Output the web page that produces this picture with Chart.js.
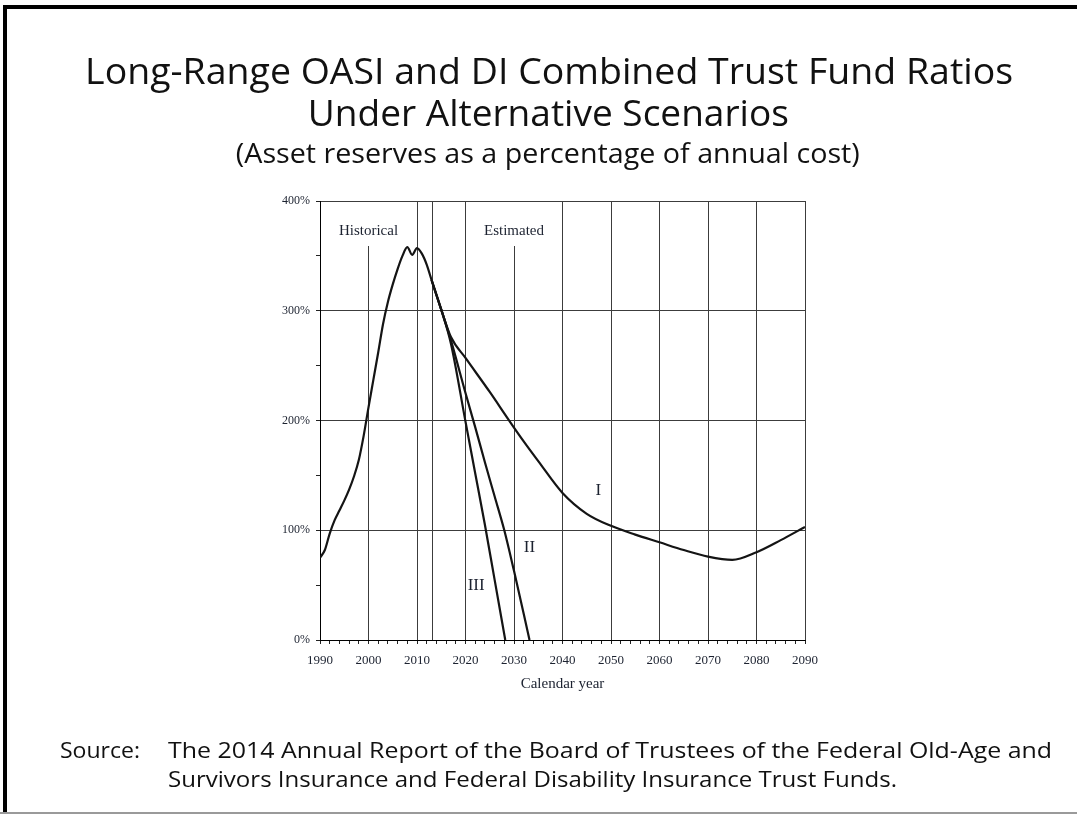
<!DOCTYPE html>
<html>
<head>
<meta charset="utf-8">
<script src="https://cdn.jsdelivr.net/npm/chart.js@4.4.1/dist/chart.umd.min.js"></script>
<style>
  html, body { margin: 0; padding: 0; background: #fff; }
  #page { position: relative; width: 1077px; height: 814px; overflow: hidden; background: #fff; }
  #frame { position: absolute; left: 3px; top: 5px; width: 1200px; height: 900px; border-left: 4px solid #000; border-top: 4px solid #000; }
  #bottomline { position: absolute; left: 0; top: 812px; width: 1077px; height: 2px; background: #9a9a9a; }
  canvas { position: absolute; left: 0; top: 0; }
  .line { position: absolute; white-space: nowrap; font-family: "Open Sans", sans-serif; color: #111; line-height: 1; }
  .center { left: 0; width: 1077px; text-align: center; }
  .line span { display: inline-block; transform-origin: 50% 50%; }
  .left span { transform-origin: 0 50%; }
</style>
</head>
<body>
<div id="page">
  <div id="frame"></div>
  <div id="bottomline"></div>
  <canvas id="chart" width="1077" height="814"></canvas>
  <div class="line center" style="top:51px; left:11px; font-size:37px"><span data-w="928">Long-Range OASI and DI Combined Trust Fund Ratios</span></div>
  <div class="line center" style="top:93px; left:10px; font-size:37px"><span data-w="481">Under Alternative Scenarios</span></div>
  <div class="line center" style="top:139px; left:9px; font-size:27px"><span data-w="624">(Asset reserves as a percentage of annual cost)</span></div>
  <div class="line left" style="top:738px; left:60px; font-size:22px"><span data-w="80">Source:</span></div>
  <div class="line left" style="top:738px; left:168px; font-size:22px"><span data-w="884">The 2014 Annual Report of the Board of Trustees of the Federal Old-Age and</span></div>
  <div class="line left" style="top:767px; left:168px; font-size:22px"><span data-w="729">Survivors Insurance and Federal Disability Insurance Trust Funds.</span></div>
</div>
<script>
// stretch each text line to the width it has in the reference
document.querySelectorAll('.line span').forEach(function (s) {
  var w = s.getBoundingClientRect().width;
  s.style.transform = 'scaleX(' + (Number(s.dataset.w) / w) + ')';
});

// historical trust fund ratio (%)
const histYears = [1990, 1991, 1992, 1993, 1994, 1995, 1996, 1997, 1998, 1999, 2000, 2001,
  2002, 2003, 2004, 2005, 2006, 2007, 2008, 2009, 2010, 2011, 2012, 2013];
const histRatio = [75, 82, 97, 109, 118, 127, 137, 149, 164, 186, 212, 237,
  262, 288, 308, 324, 338, 350, 358, 351, 357, 352, 342, 328];

// alternative I (low cost)
const lowYears = [2013, 2015, 2017, 2020, 2025, 2029, 2032, 2035, 2040, 2045, 2050,
  2055, 2060, 2065, 2070, 2075, 2080, 2085, 2090];
const lowRatio = [328, 301, 276, 257, 226, 200, 181, 163, 134, 115, 104,
  96, 89, 82, 76, 73, 80, 91, 103];

// alternative II (intermediate)
const intYears = [2013, 2015, 2017, 2020, 2022, 2024, 2026, 2028, 2030, 2032, 2033.2];
const intRatio = [328, 301, 273, 225, 194, 162, 131, 100, 63, 24, 0];

// alternative III (high cost)
const highYears = [2013, 2015, 2017, 2020, 2022, 2024, 2026, 2028.2];
const highRatio = [328, 301, 270, 199, 152, 105, 55, 0];

// curve labels [text, year, ratio]
const curveLabels = [['I', 2047.4, 136], ['II', 2033.2, 84], ['III', 2022.2, 50]];
const boundaryYear = 2013;

const toPoints = (xs, ys) => xs.map((x, i) => ({ x: x, y: ys[i] }));
const serif = '"Liberation Serif", "Times New Roman", serif';
const ink = '#1c2230';
const gridInk = '#3c3c3c';

const series = (pts) => ({
  data: pts,
  borderColor: '#141414',
  borderWidth: 2.2,
  pointRadius: 0,
  fill: false,
  cubicInterpolationMode: 'monotone'
});

const extras = {
  id: 'extras',
  beforeDatasetsDraw(chart) {
    const { ctx, chartArea, scales } = chart;
    const x = scales.x;
    ctx.save();
    // historical / estimated boundary
    const bx = Math.round(x.getPixelForValue(boundaryYear)) + 0.5;
    ctx.strokeStyle = gridInk;
    ctx.lineWidth = 1;
    ctx.beginPath();
    ctx.moveTo(bx, chartArea.top);
    ctx.lineTo(bx, chartArea.bottom);
    ctx.stroke();
    // section headings with white boxes that break the grid lines
    ctx.font = '15px ' + serif;
    ctx.textAlign = 'center';
    ctx.textBaseline = 'middle';
    [['Historical', 2000], ['Estimated', 2030]].forEach(function (h) {
      const cx = x.getPixelForValue(h[1]);
      const w = ctx.measureText(h[0]).width + 6;
      ctx.fillStyle = '#fff';
      ctx.fillRect(cx - w / 2, chartArea.top + 1, w, 44);
      ctx.fillStyle = ink;
      ctx.fillText(h[0], cx, chartArea.top + 30);
    });
    ctx.restore();
  },
  afterDatasetsDraw(chart) {
    const { ctx, scales } = chart;
    ctx.save();
    ctx.font = '17px ' + serif;
    ctx.fillStyle = ink;
    ctx.textAlign = 'center';
    ctx.textBaseline = 'middle';
    curveLabels.forEach(function (l) {
      ctx.fillText(l[0], scales.x.getPixelForValue(l[1]), scales.y.getPixelForValue(l[2]));
    });
    ctx.restore();
  }
};

new Chart(document.getElementById('chart'), {
  type: 'line',
  data: {
    datasets: [
      series(toPoints(histYears, histRatio)),
      series(toPoints(lowYears, lowRatio)),
      series(toPoints(intYears, intRatio)),
      series(toPoints(highYears, highRatio))
    ]
  },
  options: {
    responsive: false,
    animation: false,
    devicePixelRatio: 1,
    layout: { padding: { left: 270, top: 201, right: 272, bottom: 114 } },
    plugins: { legend: { display: false }, tooltip: { enabled: false } },
    scales: {
      x: {
        type: 'linear',
        min: 1990,
        max: 2090,
        afterFit(scale) { scale.height = 60; },
        border: { color: '#000', width: 1 },
        grid: {
          color: (c) => (c.tick && c.tick.value % 10 === 0 ? gridInk : 'rgba(0,0,0,0)'),
          tickColor: '#222',
          tickLength: 4,
          lineWidth: 1
        },
        ticks: {
          stepSize: 2,
          autoSkip: false,
          maxRotation: 0,
          maxTicksLimit: 100,
          padding: 9,
          color: ink,
          font: { family: serif, size: 13 },
          callback: (v) => (v % 10 === 0 ? String(v) : '')
        },
        title: {
          display: true,
          text: 'Calendar year',
          color: ink,
          font: { family: serif, size: 15 },
          padding: { top: 0, bottom: 7 }
        }
      },
      y: {
        min: 0,
        max: 400,
        afterFit(scale) { scale.width = 50; },
        border: { color: '#000', width: 1 },
        grid: {
          color: (c) => (c.tick && c.tick.value % 100 === 0 ? gridInk : 'rgba(0,0,0,0)'),
          tickColor: '#222',
          tickLength: 4,
          lineWidth: 1
        },
        ticks: {
          stepSize: 50,
          autoSkip: false,
          padding: 6,
          color: ink,
          font: { family: serif, size: 12 },
          callback: (v) => (v % 100 === 0 ? v + '%' : '')
        }
      }
    }
  },
  plugins: [extras]
});
</script>
</body>
</html>
